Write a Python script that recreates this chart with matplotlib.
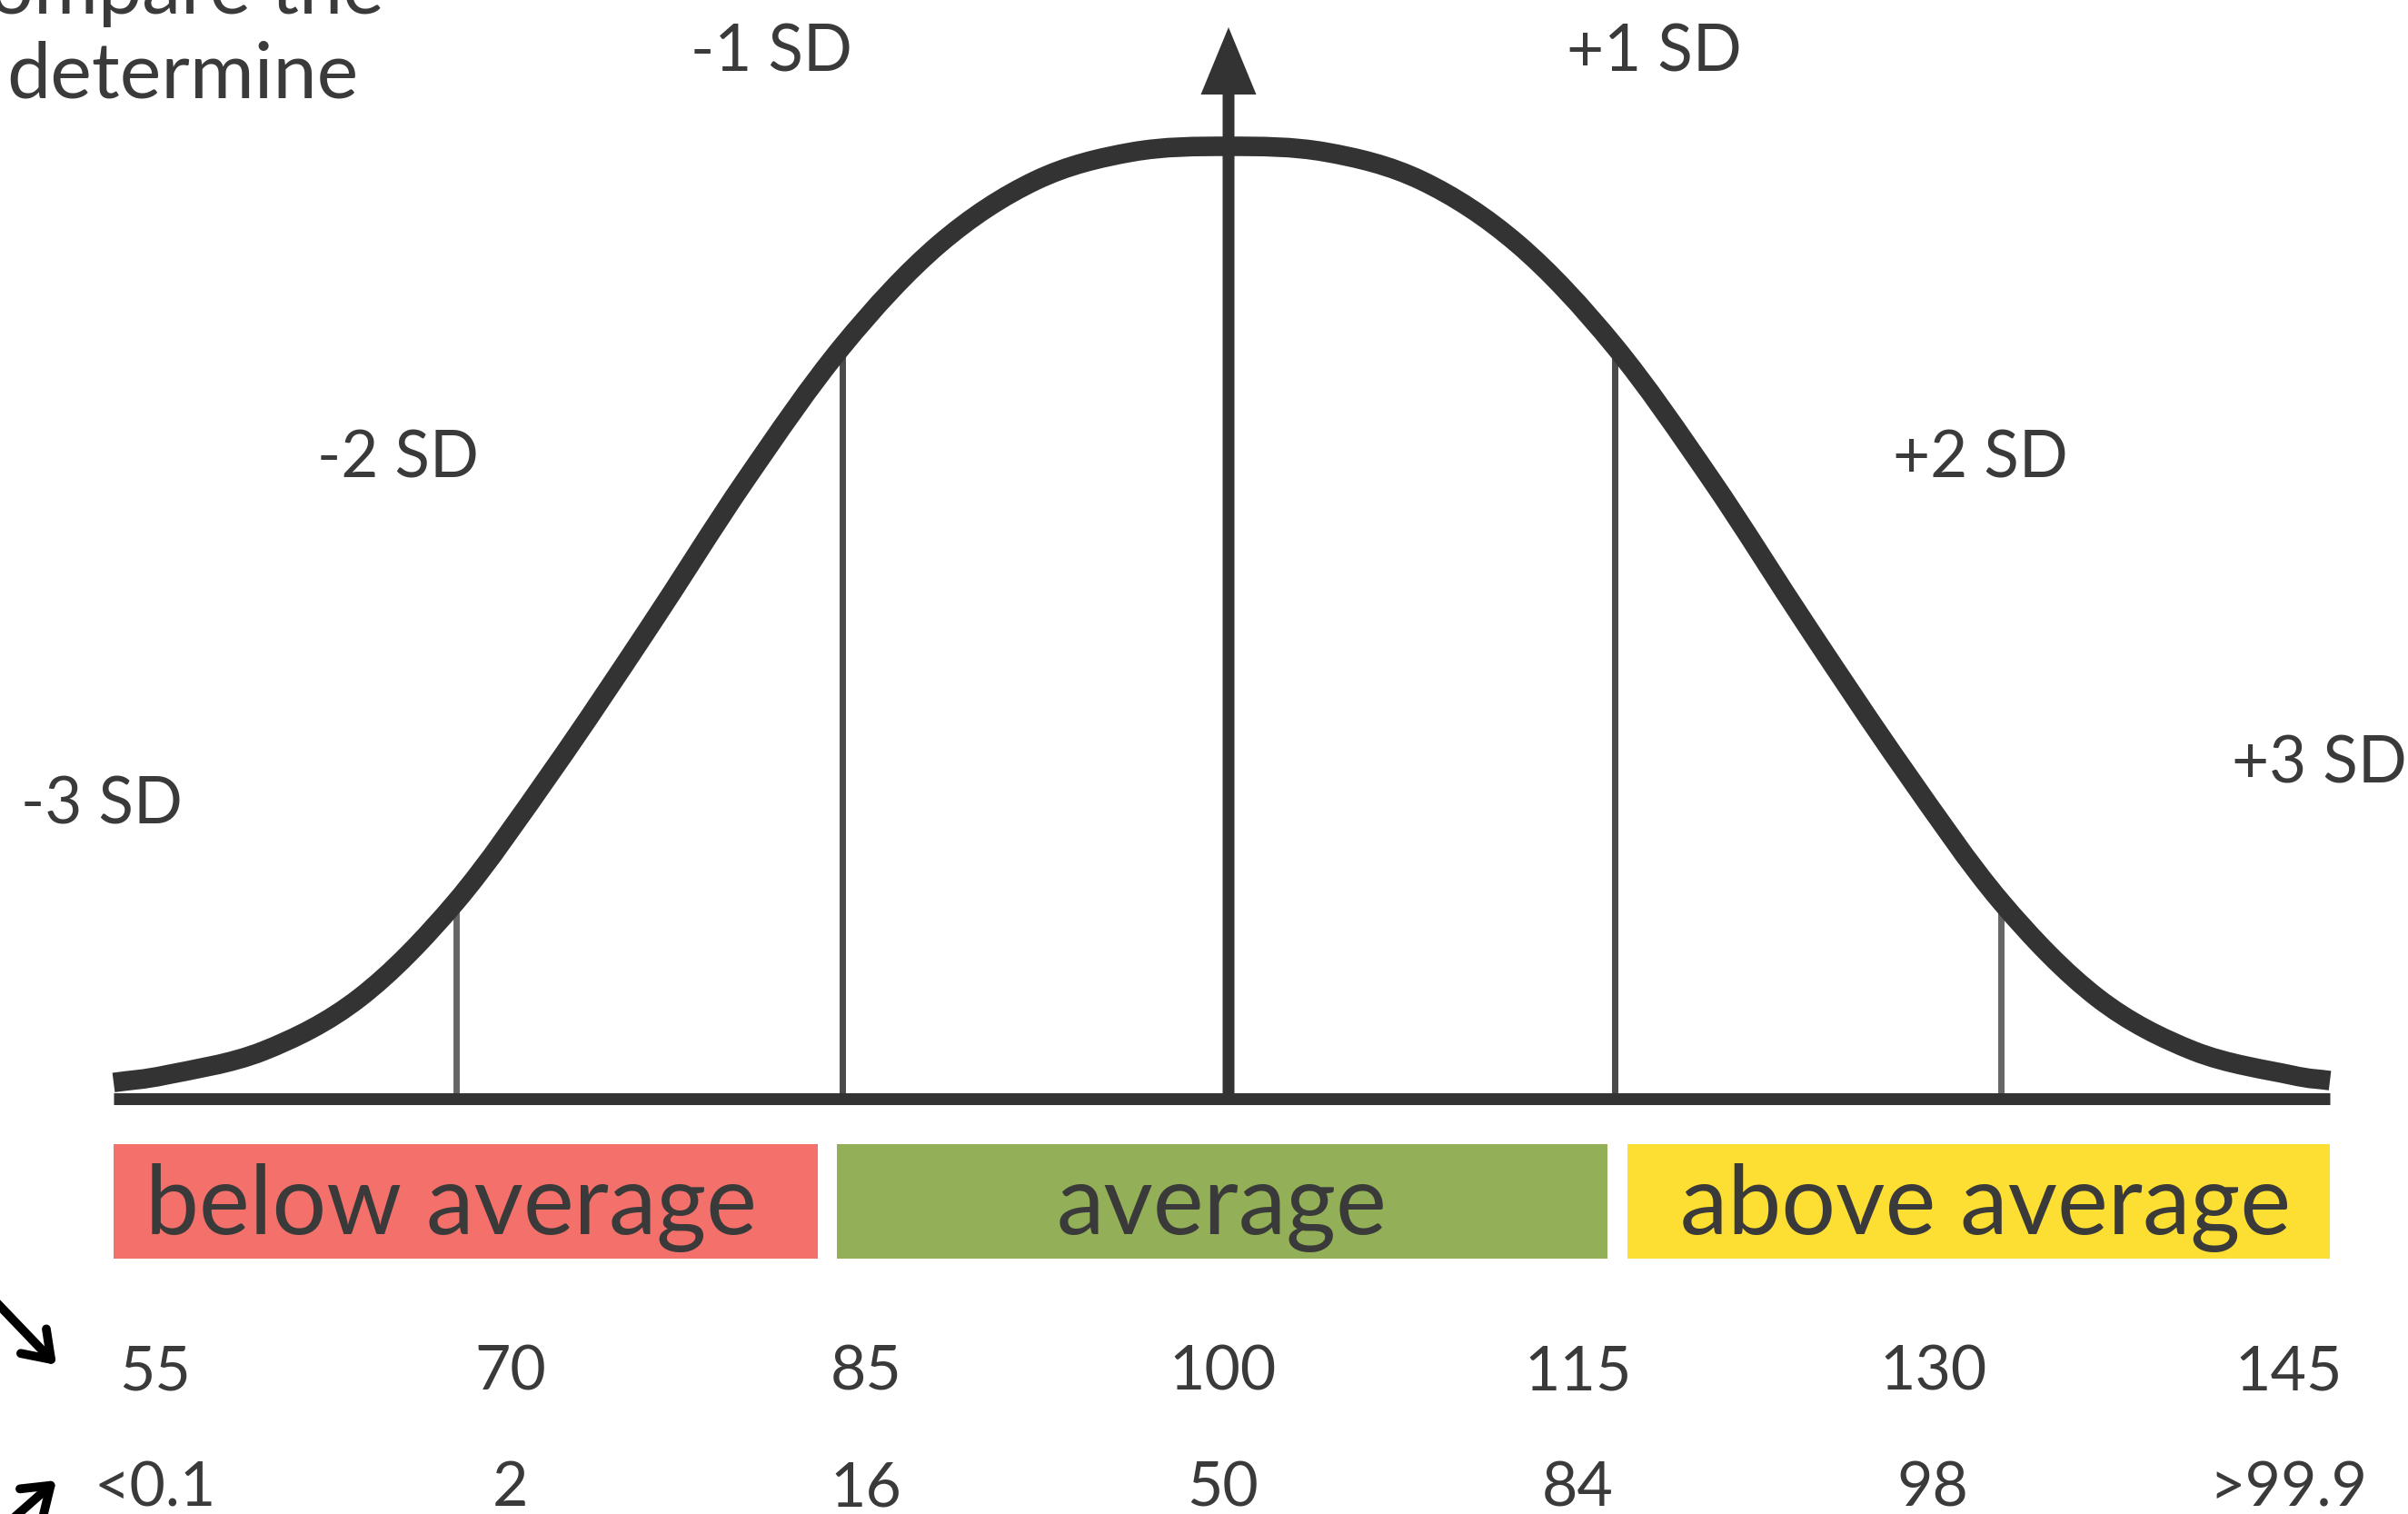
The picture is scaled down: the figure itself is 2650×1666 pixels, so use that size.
import numpy as np
import matplotlib
matplotlib.use("Agg")
import matplotlib.pyplot as plt
from matplotlib.path import Path
from matplotlib.patches import PathPatch

plt.rcParams['font.family'] = ['Lato', 'DejaVu Sans']

# ---------------- data ----------------
# bell curve: position in SD units and height as a fraction of the peak
curve_z = [-2.887, -2.75, -2.5, -2.25, -2.0, -1.75, -1.5, -1.25, -1.0, -0.75, -0.5, -0.25, 0.0,
           0.25, 0.5, 0.75, 1.0, 1.25, 1.5, 1.75, 2.0, 2.25, 2.5, 2.75, 2.852]
curve_h = [0.017, 0.025, 0.050, 0.106, 0.207, 0.345, 0.495, 0.650, 0.790, 0.897, 0.964, 0.994, 1.0,
           0.994, 0.964, 0.897, 0.790, 0.650, 0.495, 0.345, 0.207, 0.106, 0.050, 0.025, 0.019]

sd_line_z = [-2, -1, 1, 2]
sd_labels = ["-3 SD", "-2 SD", "-1 SD", "+1 SD", "+2 SD", "+3 SD"]
sd_label_z = [-2.918, -2.151, -1.184, 1.101, 1.946, 2.824]
sd_label_h = [0.289, 0.652, 1.079, 1.079, 0.652, 0.332]

categories = ["below average", "average", "above average"]
cat_left = [-2.887, -1.014, 1.033]
cat_right = [-1.064, 0.981, 2.852]
cat_label_z = [-2.014, -0.017, 1.960]
cat_colors = ["#F4706A", "#93AF57", "#FDDE32"]

iq_scores = ["55", "70", "85", "100", "115", "130", "145"]
percentiles = ["<0.1", "2", "16", "50", "84", "98", ">99.9"]
score_z = [-2.779, -1.859, -0.939, -0.016, 0.904, 1.824, 2.745]

# ---------------- layout ----------------
W, H = 2650, 1666
CX, SDPX = 1352, 425          # centre pixel, pixels per SD
BASE, PEAK = 1209, 161        # baseline / peak pixel rows

def zx(px):
    return (px - CX) / SDPX

def hy(py):
    return (BASE - py) / (BASE - PEAK)

INK = "#333333"
TXT = "#3a3a3a"

fig = plt.figure(figsize=(W / 100, H / 100), dpi=100)
ax = fig.add_axes([0, 0, 1, 1])
ax.set_xlim(zx(0), zx(W))
ax.set_ylim(hy(H), hy(0))
ax.axis("off")

# bars under the axis
box_bottom, box_top = hy(1385), hy(1259)
for l, r, c in zip(cat_left, cat_right, cat_colors):
    ax.bar(l, box_top - box_bottom, width=r - l, bottom=box_bottom, align="edge",
           color=c, edgecolor="none", zorder=1)
for name, z in zip(categories, cat_label_z):
    ax.text(z, hy(1358), name, ha="center", va="baseline", fontsize=76, color=TXT, zorder=3)

# vertical SD lines
for z in sd_line_z:
    top = np.interp(z, curve_z, curve_h)
    col = "#4a4a4a" if abs(z) == 1 else "#666666"
    ax.plot([z, z], [0, top], color=col, lw=5, solid_capstyle="butt", zorder=2)

# baseline
ax.plot([curve_z[0], curve_z[-1]], [0, 0], color=INK, lw=9.4, solid_capstyle="butt", zorder=4)

# centre arrow
stem_w = 13 / SDPX
ax.arrow(0, 0, 0, hy(30), width=stem_w, head_width=61 / SDPX,
         head_length=(104 - 30) / (BASE - PEAK),
         length_includes_head=True, color=INK, lw=0, zorder=5)

# smooth bell curve through the read points (Catmull-Rom drawn as Bezier)
pts = np.column_stack([curve_z, curve_h])
n = len(pts)
ext = np.vstack([2 * pts[0] - pts[1], pts, 2 * pts[-1] - pts[-2]])
verts = [pts[0]]
codes = [Path.MOVETO]
for i in range(n - 1):
    p0, p1, p2, p3 = ext[i], ext[i + 1], ext[i + 2], ext[i + 3]
    c1 = p1 + (p2 - p0) / 6.0
    c2 = p2 - (p3 - p1) / 6.0
    verts += [c1, c2, p2]
    codes += [Path.CURVE4] * 3
ax.add_patch(PathPatch(Path(verts, codes), fill=False, edgecolor=INK, linewidth=15.5,
                       capstyle="butt", joinstyle="round", zorder=6))

# SD labels
for lab, z, h in zip(sd_labels, sd_label_z, sd_label_h):
    ax.text(z, h, lab, ha="center", va="baseline", fontsize=51, color=TXT)

# score rows
for s, p, z in zip(iq_scores, percentiles, score_z):
    ax.text(z, hy(1530), s, ha="center", va="baseline", fontsize=49, color=TXT)
    ax.text(z, hy(1657), p, ha="center", va="baseline", fontsize=49, color=TXT)

# cut-off paragraph text at top left
ax.text(zx(423), hy(15), "compare the", ha="right", va="baseline", fontsize=62, color=TXT)
ax.text(zx(395), hy(108), "determine", ha="right", va="baseline", fontsize=62, color=TXT)

# black pointer arrows at bottom left
for (x0, y0), (x1, y1) in [((-30, 1406), (62, 1502)), ((-30, 1710), (62, 1629))]:
    ax.annotate("", xy=(zx(x1), hy(y1)), xytext=(zx(x0), hy(y0)),
                arrowprops=dict(arrowstyle="->,head_length=0.5,head_width=0.35",
                                color="black", lw=7, mutation_scale=40,
                                capstyle="round", joinstyle="round",
                                shrinkA=0, shrinkB=0))

fig.savefig("out.png", dpi=100, facecolor="white")
